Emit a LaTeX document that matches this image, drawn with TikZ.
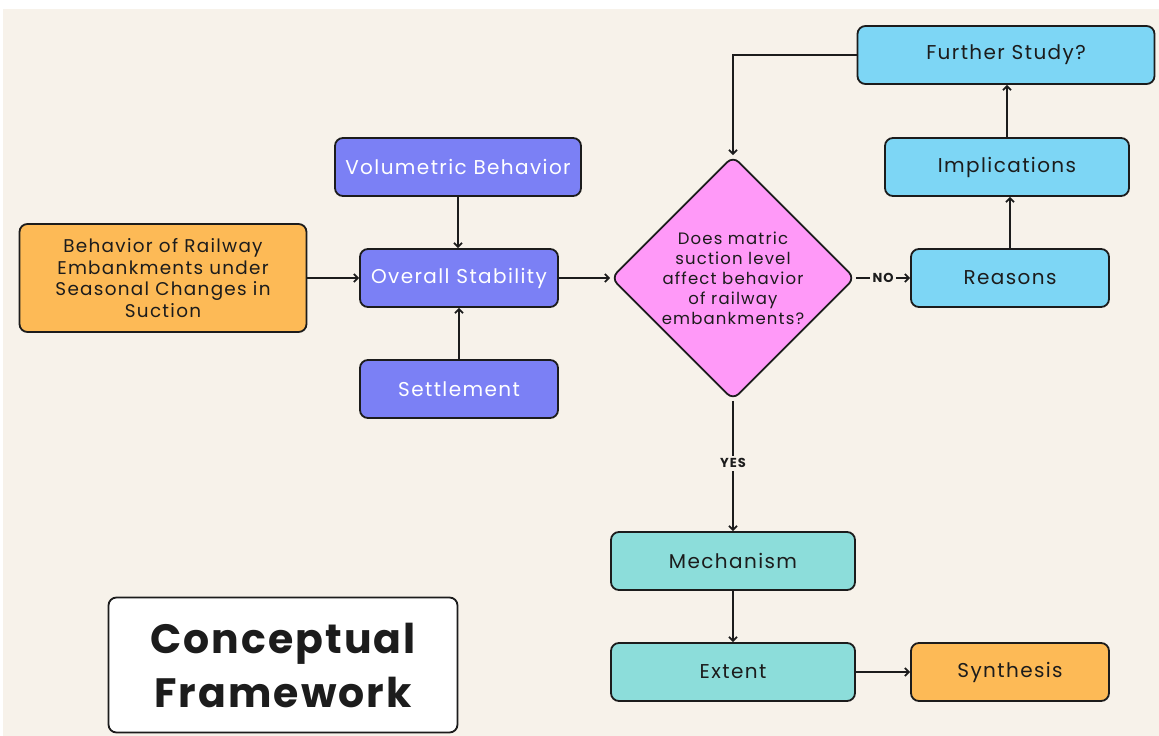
\documentclass[tikz,border=0pt]{standalone}
\usepackage{fontspec}
\setmainfont{Poppins}[LetterSpace=7]
\newfontfamily\titlefont{Poppins}[LetterSpace=5]
\usetikzlibrary{shapes.geometric,arrows.meta}
\definecolor{cream}{HTML}{F7F2EA}
\definecolor{skybox}{HTML}{7DD6F5}
\definecolor{purplebox}{HTML}{7B80F5}
\definecolor{pinkbox}{HTML}{FF99F8}
\definecolor{tealbox}{HTML}{8CDDDA}
\definecolor{orangebox}{HTML}{FDBA56}
\definecolor{ink}{HTML}{1C1C1C}
\begin{document}
\begin{tikzpicture}[x=1pt,y=-1pt,
	box/.style={draw=ink,line width=1.8pt,rounded corners=8pt,minimum height=58pt,
		inner sep=0pt,text=ink,align=center,font=\fontsize{20}{24}\selectfont},
	sky/.style={box,fill=skybox},
	purple/.style={box,fill=purplebox,text=white},
	teal/.style={box,fill=tealbox},
	orange/.style={box,fill=orangebox},
	question/.style={diamond,draw=ink,line width=1.8pt,rounded corners=8pt,fill=pinkbox,
		minimum width=244pt,minimum height=244pt,inner sep=-4pt,align=center,
		text=ink,font=\fontsize{16.5}{20}\selectfont},
	answer/.style={fill=cream,inner sep=3pt,text=ink,font=\fontsize{13}{14}\selectfont\bfseries},
	arr/.style={draw=ink,line width=1.8pt,-{Straight Barb[length=4pt,width=8pt]}}]
\useasboundingbox (0,0) rectangle (1159,736);
\fill[white] (0,0) rectangle (1159,736);
\fill[cream] (3,9) rectangle (1159,736);
\node[sky,minimum width=297pt] (further) at (1006,55) {Further Study?};
\node[sky,minimum width=244pt] (implic) at (1007,167) {Implications};
\node[sky,minimum width=198pt] (reasons) at (1010,278) {Reasons};
\node[purple,minimum width=246pt] (volum) at (458,167) {Volumetric Behavior};
\node[purple,minimum width=198pt] (overall) at (459,278) {Overall Stability};
\node[purple,minimum width=198pt] (settle) at (459,389) {Settlement};
\node[orange,minimum width=287pt,minimum height=108pt,font=\fontsize{18.4}{21.4}\selectfont]
	(railway) at (163,278)
	{Behavior of Railway\\Embankments under\\Seasonal Changes in\\Suction};
\node[question] (suction) at (733,278)
	{Does matric\\suction level\\affect behavior\\of railway\\embankments?};
\node[teal,minimum width=244pt] (mech) at (733,561) {Mechanism};
\node[teal,minimum width=244pt] (extent) at (733,672) {Extent};
\node[orange,minimum width=198pt] (synth) at (1010,672) {Synthesis};
\node[draw=ink,line width=1.8pt,rounded corners=8pt,fill=white,minimum width=349pt,
	minimum height=135pt,align=center,text=ink,
	font=\titlefont\bfseries\fontsize{41}{54}\selectfont] (title) at (283,665)
	{Conceptual\\Framework};
\draw[arr] (further.west) -| (suction.north);
\draw[arr] (implic.north) -- (implic.north |- further.south);
\draw[arr] (reasons.north) -- (reasons.north |- implic.south);
\draw[arr] (volum.south) -- (volum.south |- overall.north);
\draw[arr] (settle) -- (overall);
\draw[arr] (railway) -- (overall);
\draw[arr] (overall) -- (suction);
\draw[arr] (suction) -- node[answer] {NO} (reasons);
\draw[arr] (suction) -- node[answer,pos=0.48] {YES} (mech);
\draw[arr] (mech) -- (extent);
\draw[arr] (extent) -- (synth);
\end{tikzpicture}
\end{document}
